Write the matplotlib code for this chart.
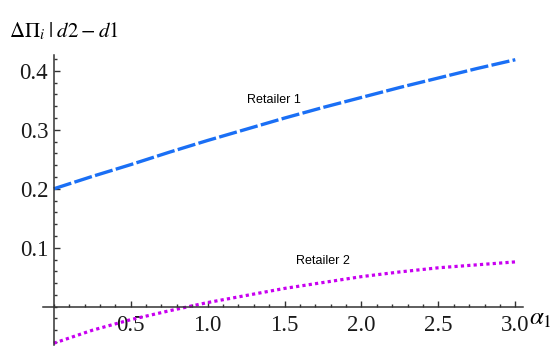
import matplotlib
matplotlib.use("Agg")
import matplotlib.pyplot as plt
from matplotlib.ticker import MultipleLocator, FixedLocator

# values
alpha1 = [0.0, 0.25, 0.5, 0.75, 1.0, 1.25, 1.5, 1.75, 2.0, 2.25, 2.5, 2.75, 3.0]
retailer1 = [0.200, 0.221, 0.241, 0.262, 0.282, 0.301, 0.320, 0.338, 0.355, 0.372, 0.388, 0.404, 0.419]
retailer2 = [-0.062, -0.040, -0.022, -0.007, 0.007, 0.019, 0.031, 0.041, 0.051, 0.059, 0.066, 0.071, 0.076]

x_ticks = [0.5, 1.0, 1.5, 2.0, 2.5, 3.0]
x_tick_labels = ["0.5", "1.0", "1.5", "2.0", "2.5", "3.0"]
y_ticks = [0.1, 0.2, 0.3, 0.4]
y_tick_labels = ["0.1", "0.2", "0.3", "0.4"]

plt.rcParams['mathtext.fontset'] = 'stix'

fig = plt.figure(figsize=(5.56, 3.47), dpi=100)
ax = fig.add_axes([43 / 556, 2 / 347, 480 / 556, 290 / 347])

ax.plot(alpha1, retailer1, color='#1a6ff5', lw=2.4, dashes=(5.5, 1.0), solid_capstyle='butt')
ax.plot(alpha1, retailer2, color='#c800f0', lw=2.3, dashes=(1.0, 1.0))

ax.set_xlim(-0.07, 3.05)
ax.set_ylim(-0.065, 0.427)

# axes cross at the origin, mathematica style
ax.spines['left'].set_position(('data', 0))
ax.spines['bottom'].set_position(('data', 0))
ax.spines['top'].set_visible(False)
ax.spines['right'].set_visible(False)
for s in ('left', 'bottom'):
    ax.spines[s].set_linewidth(1.1)
    ax.spines[s].set_color('#333333')

ax.xaxis.set_major_locator(FixedLocator(x_ticks))
ax.set_xticklabels(x_tick_labels)
ax.xaxis.set_minor_locator(MultipleLocator(0.1))
ax.yaxis.set_major_locator(FixedLocator(y_ticks))
ax.set_yticklabels(y_tick_labels)
ax.yaxis.set_minor_locator(MultipleLocator(0.02))

ax.tick_params(which='both', direction='in', color='#333333', width=1.0)
ax.tick_params(which='major', length=4)
ax.tick_params(which='minor', length=2.2)
ax.tick_params(axis='x', pad=6)
ax.tick_params(axis='y', pad=4)
for lab in ax.get_xticklabels() + ax.get_yticklabels():
    lab.set_family('Liberation Serif')
    lab.set_fontsize(16.5)
    lab.set_color('#1a1a1a')

ax.text(1.43, 0.351, "Retailer 1", fontsize=9, family='Liberation Sans', ha='center', va='center')
ax.text(1.75, 0.077, "Retailer 2", fontsize=9, family='Liberation Sans', ha='center', va='center')

fig.text(9 / 556, 1 - 31 / 347, r'$\Delta\Pi_i\;|\;d2-d1$', fontsize=15, va='center', ha='left')
fig.text(529 / 556, 1 - 318 / 347, r'$\alpha_1$', fontsize=18, va='center', ha='left')

fig.savefig("out.png", dpi=100)
